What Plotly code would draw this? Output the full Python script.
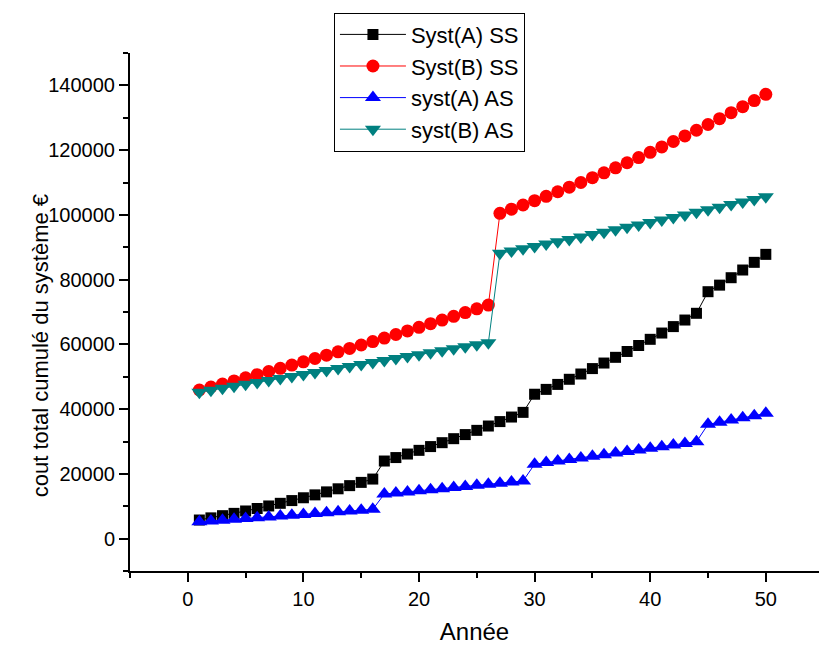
import plotly.graph_objects as go

# Years of operation
annees = list(range(1, 51))

# Cumulative total cost (EUR) per system and strategy
syst_a_ss = [
    5750, 6410, 7090, 7800, 8540, 9300, 10090, 10905, 11750, 12620,
    13515, 14440, 15390, 16365, 17370, 18400,
    23970, 25035, 26130, 27265, 28430, 29635, 30870, 32135, 33440, 34780,
    36150, 37555, 39000,
    44600, 46095, 47635, 49215, 50845, 52520, 54235, 56000, 57810, 59660,
    61560, 63500, 65490, 67520, 69600,
    76270, 78300, 80590, 82970, 85340, 87800,
]
syst_b_ss = [
    45900, 46830, 47760, 48710, 49670, 50640, 51620, 52600, 53600, 54610,
    55630, 56660, 57700, 58750, 59810, 60880, 61960, 63050, 64150, 65270,
    66390, 67520, 68660, 69820, 70980, 72150,
    100480, 101750, 103050, 104380, 105740, 107140, 108560, 110000, 111480,
    112990, 114530, 116100, 117700, 119330, 120990, 122670, 124390, 126140,
    127910, 129720, 131560, 133420, 135320, 137240,
]
syst_a_as = [
    5200, 5450, 5700, 5950, 6200, 6450, 6710, 6970, 7230, 7490,
    7750, 8010, 8270, 8530, 8790, 9050,
    13780, 14110, 14440, 14770, 15100, 15430, 15770, 16110, 16450, 16790,
    17130, 17470, 17810,
    23000, 23480, 23960, 24450, 24940, 25430, 25920, 26410, 26910, 27410,
    27910, 28410, 28910, 29420, 29930,
    35300, 35920, 36630, 37300, 37960, 38700,
]
syst_b_as = [
    45200, 45810, 46420, 47040, 47650, 48260, 48870, 49480, 50100, 50710,
    51320, 51930, 52540, 53160, 53770, 54380, 54990, 55600, 56220, 56830,
    57440, 58050, 58660, 59280, 59890, 60500,
    88120, 88825, 89535, 90250, 90970, 91695, 92425, 93160, 93900, 94645,
    95395, 96150, 96910, 97675, 98445, 99220, 100000, 100785, 101575,
    102370, 103170, 103975, 104785, 105600,
]

series = [
    ("Syst(A) SS", syst_a_ss, "black", "square", 11),
    ("Syst(B) SS", syst_b_ss, "red", "circle", 13),
    ("syst(A) AS", syst_a_as, "blue", "triangle-up", 14),
    ("syst(B) AS", syst_b_as, "#008080", "triangle-down", 14),
]

FONT = "Arial, Liberation Sans, sans-serif"

fig = go.Figure()
for name, vals, color, symbol, size in series:
    fig.add_trace(go.Scatter(
        x=annees, y=vals, name=name, mode="lines+markers",
        line=dict(color=color, width=1),
        marker=dict(symbol=symbol, size=size, color=color, line=dict(width=0)),
    ))

axis_common = dict(
    showgrid=False, zeroline=False, showline=True, linecolor="black",
    linewidth=2, ticks="outside", tickwidth=2, ticklen=9, tickcolor="black",
    tickfont=dict(family=FONT, size=20, color="black"),
)

fig.update_xaxes(
    range=[-5, 54.6], dtick=10, tick0=0,
    minor=dict(dtick=5, tick0=0, ticks="outside", ticklen=5, tickwidth=2,
               tickcolor="black"),
    title=dict(text="Année", font=dict(family=FONT, size=24, color="black"),
               standoff=14),
    **axis_common,
)
fig.update_yaxes(
    range=[-10000, 150000], dtick=20000, tick0=0, tickformat="d",
    minor=dict(dtick=10000, tick0=0, ticks="outside", ticklen=5, tickwidth=2,
               tickcolor="black"),
    **axis_common,
)

# Vertical axis title, placed as a rotated annotation
fig.add_annotation(
    text="cout total cumulé du système €",
    xref="paper", yref="paper", x=-0.1306, y=0.434,
    xanchor="center", yanchor="middle", textangle=-90, showarrow=False,
    font=dict(family=FONT, size=22, color="black"),
)

fig.update_layout(
    width=819, height=648,
    margin=dict(l=130, r=0, t=53, b=77),
    plot_bgcolor="white", paper_bgcolor="white",
    showlegend=True,
    legend=dict(
        x=0.296, y=1.078, xanchor="left", yanchor="top",
        bordercolor="black", borderwidth=1, bgcolor="white",
        font=dict(family=FONT, size=22, color="black"),
        itemwidth=66, tracegroupgap=0,
    ),
)

fig.write_html("out.html")
